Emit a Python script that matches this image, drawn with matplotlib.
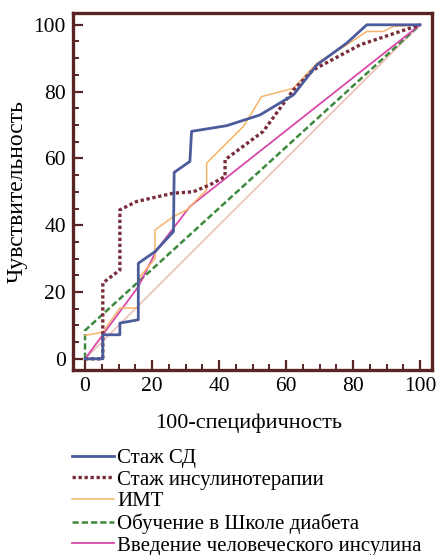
import matplotlib.pyplot as plt
from matplotlib.ticker import MultipleLocator

plt.rcParams['font.family'] = ['Liberation Serif', 'DejaVu Serif']

# ROC curves (x = 100-specificity, y = sensitivity)
staj_sd_x = [0, 5.3, 5.3, 10.4, 10.4, 15.9, 15.9, 20.9, 26.4, 26.6, 31.3, 31.8, 42.3, 52.2, 62.2, 69.2, 78.1, 84.1, 100]
staj_sd_y = [0, 0, 7.2, 7.2, 10.7, 11.7, 28.6, 32.1, 38.1, 55.8, 59.1, 68.1, 69.8, 73, 79, 88, 94.5, 100, 100]

insulin_x = [0, 5.3, 5.3, 10.4, 10.4, 15.4, 26.4, 32.3, 37.3, 41.8, 41.8, 53.2, 62.2, 68.1, 82.1, 100]
insulin_y = [0, 0, 22.7, 26.6, 44.6, 47.1, 49.6, 50, 52.1, 54.6, 59.6, 68.1, 80.5, 86.5, 94, 100]

imt_x = [0, 5.3, 10.4, 15.9, 15.9, 20.9, 20.9, 26.4, 30.4, 36.3, 36.3, 47.3, 52.7, 62.2, 69.2, 78.1, 84.1, 89, 92, 100]
imt_y = [7, 8, 15.2, 15.2, 24, 30, 38.6, 42.6, 44.6, 50.6, 58.6, 69.6, 78.5, 81, 88.5, 94, 98, 98, 99.5, 100]

school_x = [0, 0, 100]
school_y = [0, 8.5, 100]

human_x = [0, 5.3, 15.9, 21.4, 31.3, 100]
human_y = [0, 7.2, 21.6, 32.6, 45.6, 100]

ref_x = [0, 100]
ref_y = [0, 100]

frame_color = '#5a2424'

fig = plt.figure(figsize=(4.45, 5.55), dpi=100)
ax = fig.add_axes([0.164, 0.333, 0.807, 0.644])

ax.plot(ref_x, ref_y, color='#ecc0b8', linewidth=1.2)
ax.plot(school_x, school_y, color='#3d8a3d', linewidth=1.8, linestyle=(0, (2.5, 1.2)),
        label='Обучение в Школе диабета')
ax.plot(human_x, human_y, color='#d848a8', linewidth=1.3, label='Введение человеческого инсулина')
ax.plot(imt_x, imt_y, color='#f7b46a', linewidth=1.1, label='ИМТ')
ax.plot(insulin_x, insulin_y, color='#7a2d3a', linewidth=2.4, linestyle=(0, (1, 0.8)),
        label='Стаж инсулинотерапии')
ax.plot(staj_sd_x, staj_sd_y, color='#4b5b9c', linewidth=2.0, label='Стаж СД')

ax.set_xlim(-3.6, 103.6)
ax.set_ylim(-3.4, 103.6)
ax.xaxis.set_major_locator(MultipleLocator(20))
ax.yaxis.set_major_locator(MultipleLocator(20))
ax.xaxis.set_minor_locator(MultipleLocator(5))
ax.yaxis.set_minor_locator(MultipleLocator(5))
ax.tick_params(which='major', direction='in', length=7, width=1.6, color=frame_color,
               labelsize=15.5, pad=5)
ax.tick_params(which='minor', direction='in', length=4, width=1.4, color=frame_color)
for s in ax.spines.values():
    s.set_color(frame_color)
    s.set_linewidth(2.4)

ax.set_xlabel('100-специфичность', fontsize=16, labelpad=7)
ax.set_ylabel('Чувствительность', fontsize=17, labelpad=4)
ax.xaxis.set_label_coords(0.49, -0.12)

handles, labels = ax.get_legend_handles_labels()
order = ['Стаж СД', 'Стаж инсулинотерапии', 'ИМТ', 'Обучение в Школе диабета',
         'Введение человеческого инсулина']
hmap = dict(zip(labels, handles))
fig.legend([hmap[k] for k in order], order, loc='upper left', bbox_to_anchor=(0.162, 0.192),
           frameon=False, fontsize=15, handlelength=2.0, handletextpad=0.15,
           labelspacing=0.1, borderpad=0, borderaxespad=0)

fig.savefig('out.png', dpi=100)
